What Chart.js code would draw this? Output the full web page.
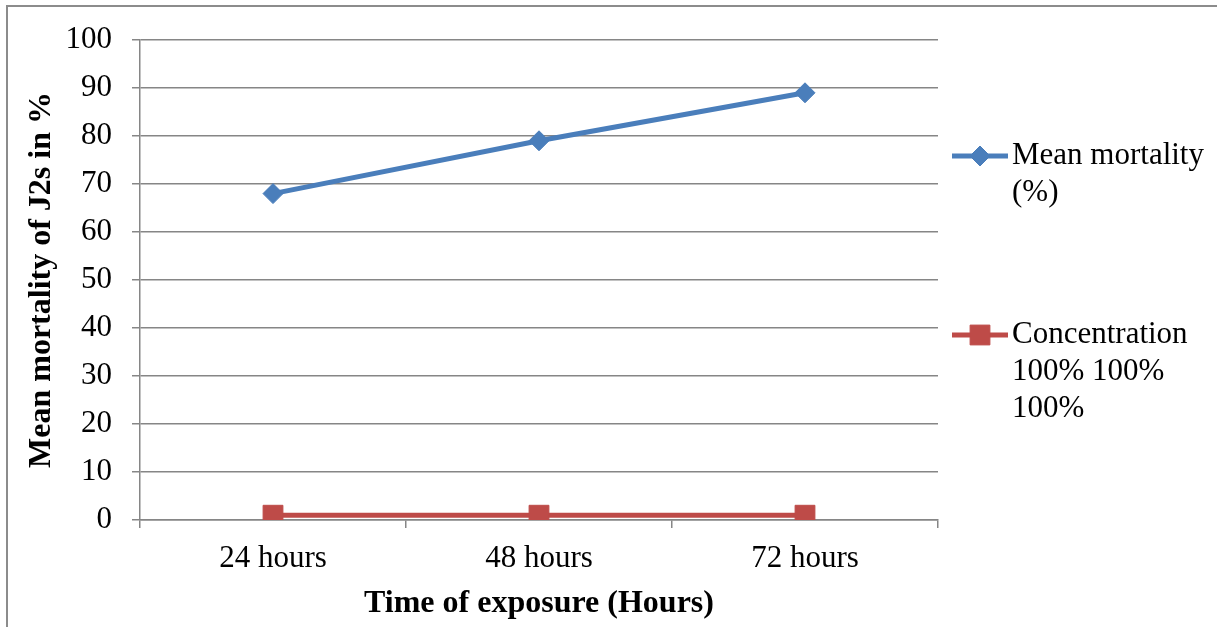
<!DOCTYPE html>
<html>
<head>
<meta charset="utf-8">
<title>Mean mortality of J2s</title>
<script src="https://cdn.jsdelivr.net/npm/chart.js@4.4.1/dist/chart.umd.min.js"></script>
<style>
    html, body { margin: 0; padding: 0; background: #fff; }
    #wrap { width: 1217px; height: 627px; position: relative; }
</style>
</head>
<body>
<div id="wrap"><canvas id="mortalityChart" width="1217" height="627"></canvas></div>
<script>
// data
const categories = ["24 hours", "48 hours", "72 hours"];
const meanMortality = [68, 79, 89];
const concentration = [1, 1, 1];
const yTicks = [0, 10, 20, 30, 40, 50, 60, 70, 80, 90, 100];
const legendMean = ["Mean mortality", "(%)"];
const legendConc = ["Concentration", "100% 100%", "100%"];

const FONT = "'Liberation Serif', 'Times New Roman', serif";
const GRID = "#868686";
const BLUE = "#4A7EBB";
const RED = "#BE4B48";

let chart;

// grey frame round the picture (only top / left visible)
const framePlugin = {
    id: "frame",
    beforeDraw(c) {
        const ctx = c.ctx;
        ctx.save();
        ctx.strokeStyle = "#8c8c8c";
        ctx.lineWidth = 2;
        ctx.beginPath();
        ctx.moveTo(7, 627);
        ctx.lineTo(7, 6);
        ctx.lineTo(1217, 6);
        ctx.stroke();
        ctx.restore();
    }
};

// legend on the right, with wrapped labels like the original
const legendPlugin = {
    id: "sideLegend",
    afterDraw(c) {
        const ctx = c.ctx;
        const items = [
            { ds: 0, lines: legendMean, y: 156 },
            { ds: 1, lines: legendConc, y: 335 }
        ];
        ctx.save();
        items.forEach(item => {
            const ds = c.data.datasets[item.ds];
            ctx.strokeStyle = ds.borderColor;
            ctx.lineWidth = ds.borderWidth;
            ctx.beginPath();
            ctx.moveTo(952, item.y);
            ctx.lineTo(1008, item.y);
            ctx.stroke();

            // marker, same style as the dataset points
            ctx.fillStyle = ds.pointBackgroundColor;
            ctx.strokeStyle = ds.pointBorderColor;
            ctx.lineWidth = ds.pointBorderWidth;
            Chart.helpers.drawPoint(ctx, {
                pointStyle: ds.pointStyle,
                rotation: 0,
                radius: ds.pointRadius,
                borderWidth: ds.pointBorderWidth
            }, 980, item.y);

            ctx.fillStyle = "#000";
            ctx.font = "31px " + FONT;
            ctx.textAlign = "left";
            ctx.textBaseline = "middle";
            item.lines.forEach((txt, i) => {
                ctx.fillText(txt, 1012, item.y + i * 37);
            });
        });
        ctx.restore();
    }
};

function createChart() {
    const ctx = document.getElementById("mortalityChart");

    if (chart) chart.destroy();

    chart = new Chart(ctx, {
        type: "line",
        data: {
            labels: categories,
            datasets: [
                {
                    label: legendMean.join(" "),
                    data: meanMortality,
                    borderColor: BLUE,
                    backgroundColor: BLUE,
                    pointBackgroundColor: BLUE,
                    pointBorderColor: BLUE,
                    borderWidth: 5,
                    pointStyle: "rectRot",
                    pointRadius: 10,
                    pointBorderWidth: 1,
                    tension: 0
                },
                {
                    label: legendConc.join(" "),
                    data: concentration,
                    borderColor: RED,
                    backgroundColor: RED,
                    pointBackgroundColor: RED,
                    pointBorderColor: RED,
                    borderWidth: 5,
                    pointStyle: "rect",
                    pointRadius: 14,
                    pointBorderWidth: 1,
                    tension: 0
                }
            ]
        },
        options: {
            responsive: false,
            animation: false,
            layout: { padding: { top: 40, right: 279, left: 0, bottom: 0 } },
            plugins: {
                legend: { display: false },
                tooltip: { enabled: false }
            },
            scales: {
                x: {
                    offset: true,
                    grid: {
                        offset: true,
                        drawOnChartArea: false,
                        drawTicks: true,
                        tickLength: 8,
                        color: GRID,
                        lineWidth: 1.5
                    },
                    border: { color: GRID, width: 1.5 },
                    ticks: {
                        color: "#000",
                        padding: 12,
                        maxRotation: 0,
                        font: { family: FONT, size: 31 }
                    },
                    title: {
                        display: true,
                        text: "Time of exposure (Hours)",
                        color: "#000",
                        padding: { top: 0, bottom: 4 },
                        font: { family: FONT, size: 32, weight: "bold" }
                    },
                    afterFit(scale) { scale.height = 107; }
                },
                y: {
                    min: 0,
                    max: 100,
                    afterBuildTicks(scale) {
                        scale.ticks = yTicks.map(v => ({ value: v }));
                    },
                    grid: {
                        color: GRID,
                        lineWidth: 1.5,
                        tickLength: 8
                    },
                    border: { color: GRID, width: 1.5 },
                    ticks: {
                        color: "#000",
                        padding: 20,
                        font: { family: FONT, size: 31 }
                    },
                    title: {
                        display: true,
                        text: "Mean mortality of J2s in %",
                        color: "#000",
                        padding: { top: 23, bottom: 0 },
                        font: { family: FONT, size: 32, weight: "bold" }
                    },
                    afterFit(scale) { scale.width = 140; }
                }
            }
        },
        plugins: [framePlugin, legendPlugin]
    });
}

createChart();
</script>
</body>
</html>
